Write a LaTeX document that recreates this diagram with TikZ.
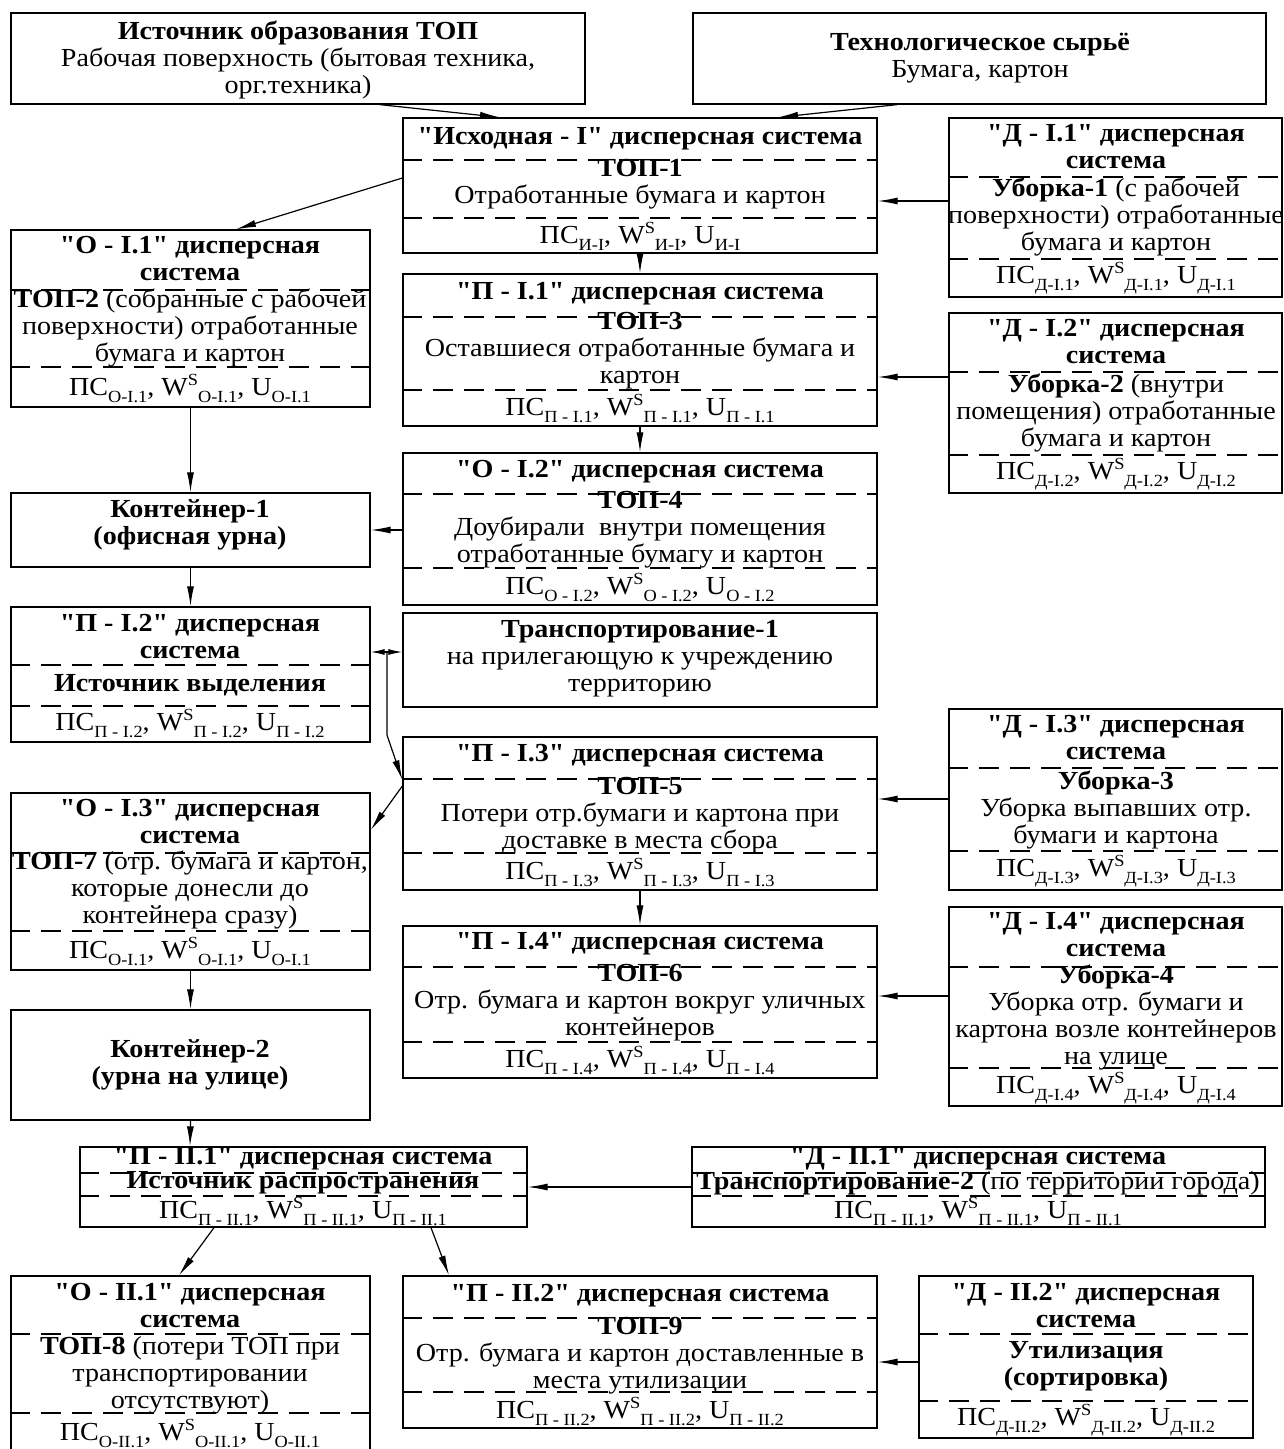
\documentclass[tikz,border=0pt]{standalone}
\usepackage{fontspec}
\setmainfont{Liberation Serif}[FakeStretch=1.08, Ligatures=TeXOff]
\usetikzlibrary{arrows.meta}
\newcommand\sbx[1]{\raisebox{-7pt}{\fontsize{17}{17}\selectfont #1}}
\newcommand\spx[1]{\raisebox{10pt}{\fontsize{17}{17}\selectfont #1}}
\newcommand\mkbox[5]{\node[boxst, minimum width={(#4-#2)*1pt}, minimum height={(#5-#3)*1pt}] (#1) at ({(#2+#4)/2},{(#3+#5)/2}) {};}
\newcommand\dl[2]{\draw[dsh] (#1.west |- 0,#2) -- (#1.east |- 0,#2);}
\newcommand\tx[4]{\node[txt] (#1) at (#2,#3) {#4};}
\newcommand\prm[1]{ПС\sbx{#1}, W\spx{S}\sbx{#1}, U\sbx{#1}}
\tikzset{
 boxst/.style={draw, line width=1.3pt, inner sep=0, rectangle},
 dsh/.style={line width=1.3pt, dash pattern=on 20pt off 11pt},
 txt/.style={inner sep=0, align=center, font=\fontsize{26}{27}\selectfont},
 arr/.style={line width=1.2pt, -{Latex[length=20pt,width=7pt]}},
 darr/.style={line width=1.2pt, {Latex[length=14pt,width=6pt]}-{Latex[length=14pt,width=6pt]}},
}
\begin{document}
\begin{tikzpicture}[x=1pt,y=-1pt]
\useasboundingbox (0,0) rectangle (1284,1449);
\fill[white] (0,0) rectangle (1284,1449);
% ---- boxes
\mkbox{A}{11}{13}{585}{104}
\mkbox{B}{693}{13}{1266}{104}
\mkbox{C}{403}{118}{877}{253}
\mkbox{D11}{949}{118}{1282}{297}
\mkbox{O11}{11}{230}{370}{407}
\mkbox{P11}{403}{274}{877}{426}
\mkbox{D12}{949}{313}{1282}{493}
\mkbox{K1}{11}{493}{370}{567}
\mkbox{O12}{403}{453}{877}{605}
\mkbox{P12}{11}{607}{370}{742}
\mkbox{T1}{403}{613}{877}{707}
\mkbox{P13}{403}{737}{877}{890}
\mkbox{D13}{949}{709}{1282}{890}
\mkbox{O13}{11}{793}{370}{970}
\mkbox{P14}{403}{926}{877}{1078}
\mkbox{D14}{949}{907}{1282}{1106}
\mkbox{K2}{11}{1010}{370}{1120}
\mkbox{P21}{80}{1147}{527}{1227}
\mkbox{D21}{692}{1147}{1265}{1227}
\mkbox{O21}{11}{1276}{370}{1470}
\mkbox{P22}{403}{1276}{877}{1428}
\mkbox{D22}{919}{1276}{1253}{1438}
% ---- dashed separators
\dl{C}{160}\dl{C}{218}
\dl{D11}{177}\dl{D11}{259}
\dl{O11}{290}\dl{O11}{367}
\dl{P11}{317}\dl{P11}{390}
\dl{D12}{372}\dl{D12}{455}
\dl{O12}{494}\dl{O12}{568}
\dl{P12}{665}\dl{P12}{706}
\dl{P13}{779}\dl{P13}{853}
\dl{D13}{768}\dl{D13}{851}
\dl{O13}{853}\dl{O13}{931}
\dl{P14}{967}\dl{P14}{1042}
\dl{D14}{967}\dl{D14}{1068}
\dl{P21}{1173}\dl{P21}{1196}
\dl{D21}{1173}\dl{D21}{1196}
\dl{O21}{1334}\dl{O21}{1413}
\dl{P22}{1318}\dl{P22}{1392}
\dl{D22}{1334}\dl{D22}{1401}
% ---- texts
\tx{a1}{298}{60}{\textbf{Источник образования ТОП}\\Рабочая поверхность (бытовая техника,\\орг.техника)}
\tx{b1}{980}{58}{\textbf{Технологическое сырьё}\\Бумага, картон}
\tx{c1}{640}{139}{\textbf{"Исходная - I" дисперсная система}}
\tx{c2}{640}{184}{\textbf{ТОП-1}\\Отработанные бумага и картон}
\tx{c3}{640}{236}{\prm{И-I}}
\tx{d11a}{1116}{147}{\textbf{"Д - I.1" дисперсная}\\\textbf{система}}
\tx{d11b}{1116}{217}{\textbf{Уборка-1} (с рабочей\\поверхности) отработанные\\бумага и картон}
\tx{d11c}{1116}{278}{\prm{Д-I.1}}
\tx{o11a}{190}{259}{\textbf{"О - I.1" дисперсная}\\\textbf{система}}
\tx{o11b}{190}{328}{\textbf{ТОП-2} (собранные с рабочей\\поверхности) отработанные\\бумага и картон}
\tx{o11c}{190}{388}{\prm{О-I.1}}
\tx{p11a}{640}{294}{\textbf{"П - I.1" дисперсная система}}
\tx{p11b}{640}{351}{\textbf{ТОП-3}\\Оставшиеся отработанные бумага и\\картон}
\tx{p11c}{640}{408}{\prm{П - I.1}}
\tx{d12a}{1116}{342}{\textbf{"Д - I.2" дисперсная}\\\textbf{система}}
\tx{d12b}{1116}{413}{\textbf{Уборка-2} (внутри\\помещения) отработанные\\бумага и картон}
\tx{d12c}{1116}{474}{\prm{Д-I.2}}
\tx{k1}{190}{525}{\textbf{Контейнер-1}\\\textbf{(офисная урна)}}
\tx{o12a}{640}{472}{\textbf{"О - I.2" дисперсная система}}
\tx{o12b}{640}{530}{\textbf{ТОП-4}\\Доубирали\ \ внутри помещения\\отработанные бумагу и картон}
\tx{o12c}{640}{587}{\prm{О - I.2}}
\tx{p12a}{190}{637}{\textbf{"П - I.2" дисперсная}\\\textbf{система}}
\tx{p12b}{190}{685}{\textbf{Источник выделения}}
\tx{p12c}{190}{723}{\prm{П - I.2}}
\tx{t1}{640}{659}{\textbf{Транспортирование-1}\\на прилегающую к учреждению\\территорию}
\tx{p13a}{640}{756}{\textbf{"П - I.3" дисперсная система}}
\tx{p13b}{640}{816}{\textbf{ТОП-5}\\Потери отр.бумаги и картона при\\доставке в места сбора}
\tx{p13c}{640}{872}{\prm{П - I.3}}
\tx{d13a}{1116}{738}{\textbf{"Д - I.3" дисперсная}\\\textbf{система}}
\tx{d13b}{1116}{810}{\textbf{Уборка-3}\\Уборка выпавших отр.\\бумаги и картона}
\tx{d13c}{1116}{871}{\prm{Д-I.3}}
\tx{o13a}{190}{822}{\textbf{"О - I.3" дисперсная}\\\textbf{система}}
\tx{o13b}{190}{890}{\textbf{ТОП-7} (отр. бумага и картон,\\которые донесли до\\контейнера сразу)}
\tx{o13c}{190}{951}{\prm{О-I.1}}
\tx{p14a}{640}{944}{\textbf{"П - I.4" дисперсная система}}
\tx{p14b}{640}{1003}{\textbf{ТОП-6}\\Отр. бумага и картон вокруг уличных\\контейнеров}
\tx{p14c}{640}{1060}{\prm{П - I.4}}
\tx{d14a}{1116}{935}{\textbf{"Д - I.4" дисперсная}\\\textbf{система}}
\tx{d14b}{1116}{1017}{\textbf{Уборка-4}\\Уборка отр. бумаги и\\картона возле контейнеров\\на улице}
\tx{d14c}{1116}{1088}{\prm{Д-I.4}}
\tx{k2}{190}{1065}{\textbf{Контейнер-2}\\\textbf{(урна на улице)}}
\tx{p21a}{303}{1159}{\textbf{"П - II.1" дисперсная система}}
\tx{p21b}{303}{1183}{\textbf{Источник распространения}}
\tx{p21c}{303}{1211}{\prm{П - II.1}}
\tx{d21a}{978}{1159}{\textbf{"Д - II.1" дисперсная система}}
\tx{d21b}{978}{1183}{\textbf{Транспортирование-2} (по территории города)}
\tx{d21c}{978}{1211}{\prm{П - II.1}}
\tx{o21a}{190}{1306}{\textbf{"О - II.1" дисперсная}\\\textbf{система}}
\tx{o21b}{190}{1375}{\textbf{ТОП-8} (потери ТОП при\\транспортировании\\отсутствуют)}
\tx{o21c}{190}{1433}{\prm{О-II.1}}
\tx{p22a}{640}{1296}{\textbf{"П - II.2" дисперсная система}}
\tx{p22b}{640}{1356}{\textbf{ТОП-9}\\Отр. бумага и картон доставленные в\\места утилизации}
\tx{p22c}{640}{1411}{\prm{П - II.2}}
\tx{d22a}{1086}{1306}{\textbf{"Д - II.2" дисперсная}\\\textbf{система}}
\tx{d22b}{1086}{1366}{\textbf{Утилизация}\\\textbf{(сортировка)}}
\tx{d22c}{1086}{1420}{\prm{Д-II.2}}
% ---- connectors
\coordinate (j1) at (387,652);
\coordinate (j2) at (387,735);
\draw[arr] (380,0 |- A.south) -- (500,0 |- C.north);
\draw[arr] (897,0 |- B.south) -- (778,0 |- C.north);
\draw[arr] (D11.west |- 0,201) -- (C.east |- 0,201);
\draw[arr] (C.west |- 0,178) -- (236,0 |- O11.north);
\draw[arr] (C.south) -- (P11.north);
\draw[arr] (D12.west |- 0,377) -- (P11.east |- 0,377);
\draw[arr] (O11.south) -- (K1.north);
\draw[arr] (P11.south) -- (O12.north);
\draw[arr] (O12.west |- 0,530) -- (K1.east |- 0,530);
\draw[arr] (K1.south) -- (P12.north);
\draw[darr] (P12.east |- 0,652) -- (T1.west |- 0,652);
\draw[arr] (j1) -- (j2) -- (P13.west |- 0,780);
\draw[arr] (P13.west |- 0,786) -- (O13.east |- 0,830);
\draw[arr] (D13.west |- 0,799) -- (P13.east |- 0,799);
\draw[arr] (P13.south) -- (P14.north);
\draw[arr] (D14.west |- 0,996) -- (P14.east |- 0,996);
\draw[arr] (O13.south) -- (K2.north);
\draw[arr] (K2.south) -- (190,0 |- P21.north);
\draw[arr] (D21.west |- 0,1187) -- (P21.east |- 0,1187);
\draw[arr] (214,0 |- P21.south) -- (179,0 |- O21.north);
\draw[arr] (431,0 |- P21.south) -- (449,0 |- P22.north);
\draw[arr] (D22.west |- 0,1362) -- (P22.east |- 0,1362);
\end{tikzpicture}
\end{document}
